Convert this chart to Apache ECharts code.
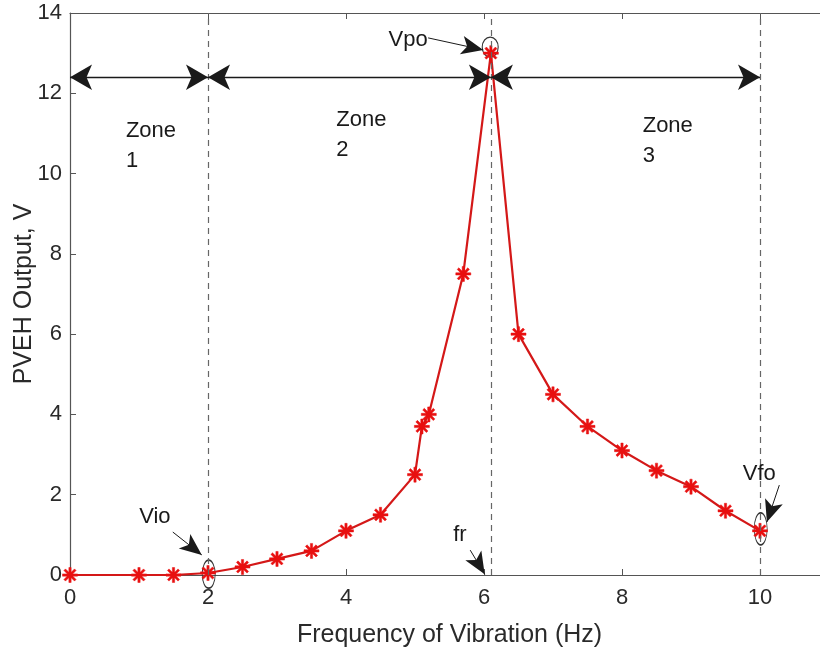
<!DOCTYPE html>
<html>
<head>
<meta charset="utf-8">
<script src="https://cdn.jsdelivr.net/npm/echarts@6/dist/echarts.min.js"></script>
<style>html,body{margin:0;padding:0;background:#fff}#c{width:820px;height:650px}</style>
</head>
<body>
<div id="c"></div>
<script>
// ---- data ----
var freq = [0, 1, 1.5, 2, 2.5, 3, 3.5, 4, 4.5, 5, 5.1, 5.2, 5.7, 6.1, 6.5, 7, 7.5, 8, 8.5, 9, 9.5, 10];
var volts = [0, 0, 0, 0.05, 0.2, 0.4, 0.6, 1.1, 1.5, 2.5, 3.7, 4.0, 7.5, 13, 6, 4.5, 3.7, 3.1, 2.6, 2.2, 1.6, 1.1];
var xTicks = [0, 2, 4, 6, 8, 10];
var yTicks = [0, 2, 4, 6, 8, 10, 12, 14];
var zoneBounds = [0, 2, 6.1, 10];
var zoneArrowY = 12.4;
var zoneLabels = ['Zone\n1', 'Zone\n2', 'Zone\n3'];
var zoneLabelPos = [[0.81, 10.7], [3.86, 10.95], [8.3, 10.82]];
var dashedX = [2, 6.1, 10];
var annoText = ['Vpo', 'Vio', 'fr', 'Vfo'];
var annoTextPos = [[4.9, 13.33], [1.23, 1.44], [5.65, 1.0], [9.99, 2.52]];
var annoArrowFrom = [[5.19, 13.38], [1.49, 1.07], [5.8, 0.62], [10.28, 2.24]];
var annoArrowTo = [[5.99, 13.08], [1.91, 0.5], [6.01, 0.02], [10.1, 1.32]];
var ellipseCenters = [[6.09, 13.15], [2.01, 0.02], [10.01, 1.15]];
var ellipseSizes = [[16, 20], [13, 28], [13, 32]];

var FONT = '"Liberation Sans", Arial, sans-serif';
var star = 'path://M-10,-1.5L10,-1.5L10,1.5L-10,1.5Z' +
  'M-1.5,-10L1.5,-10L1.5,10L-1.5,10Z' +
  'M-8.13,-6.01L-6.01,-8.13L8.13,6.01L6.01,8.13Z' +
  'M-6.01,8.13L-8.13,6.01L6.01,-8.13L8.13,-6.01Z';

var chart = echarts.init(document.getElementById('c'), null, {renderer: 'canvas'});

var zoneArrows = [];
for (var i = 0; i < zoneBounds.length - 1; i++) {
  zoneArrows.push([{coord: [zoneBounds[i], zoneArrowY]}, {coord: [zoneBounds[i + 1], zoneArrowY]}]);
}
var annoArrows = annoArrowFrom.map(function (f, i) {
  return [{coord: f}, {coord: annoArrowTo[i]}];
});

var option = {
  animation: false,
  backgroundColor: '#fff',
  grid: {left: 70, top: 13, right: -9, bottom: 75, outerBoundsMode: 'none', containLabel: false},
  xAxis: [{
    type: 'value', min: 0, max: 11, interval: 2,
    name: 'Frequency of Vibration (Hz)', nameLocation: 'middle', nameGap: 48,
    nameMoveOverlap: false,
    nameTextStyle: {fontFamily: FONT, fontSize: 25, color: '#2a2a2a'},
    axisLine: {show: true, onZero: false, lineStyle: {color: '#555', width: 1.2}},
    axisTick: {show: true, inside: true, length: 6, lineStyle: {color: '#555'}},
    axisLabel: {fontFamily: FONT, fontSize: 22, color: '#2a2a2a', margin: 12, showMaxLabel: false},
    splitLine: {show: false}
  }, {
    type: 'value', min: 0, max: 11, interval: 2, position: 'top',
    axisLine: {show: true, onZero: false, lineStyle: {color: '#555', width: 1.2}},
    axisTick: {show: true, inside: true, length: 6, lineStyle: {color: '#555'}},
    axisLabel: {show: false},
    splitLine: {show: false}
  }],
  yAxis: [{
    type: 'value', min: 0, max: 14, interval: 2,
    name: 'PVEH Output, V', nameLocation: 'middle', nameGap: 33,
    nameMoveOverlap: false,
    nameTextStyle: {fontFamily: FONT, fontSize: 25, color: '#2a2a2a'},
    axisLine: {show: true, onZero: false, lineStyle: {color: '#555', width: 1.2}},
    axisTick: {show: true, inside: true, length: 6, lineStyle: {color: '#555'}},
    axisLabel: {fontFamily: FONT, fontSize: 22, color: '#2a2a2a', margin: 8},
    splitLine: {show: false}
  }],
  series: [
    {
      type: 'line', data: [], silent: true,
      markLine: {
        silent: true, symbol: ['none', 'none'], label: {show: false},
        lineStyle: {color: '#666', type: [6, 5], width: 1.2},
        data: dashedX.map(function (x) { return {xAxis: x}; })
      }
    },
    {
      type: 'line', data: [], silent: true,
      markLine: {
        silent: true, symbol: ['arrow', 'arrow'], symbolSize: [19, 22], label: {show: false},
        lineStyle: {color: '#1a1a1a', type: 'solid', width: 1.3},
        data: zoneArrows
      }
    },
    {
      type: 'line', data: [], silent: true,
      markLine: {
        silent: true, symbol: ['none', 'arrow'], symbolSize: [14, 22], label: {show: false},
        lineStyle: {color: '#1a1a1a', type: 'solid', width: 1},
        data: annoArrows
      }
    },
    {
      type: 'scatter', silent: true, z: 3,
      data: ellipseCenters.map(function (c, i) {
        return {value: c, symbolSize: ellipseSizes[i]};
      }),
      symbol: 'circle',
      itemStyle: {color: 'rgba(0,0,0,0)', borderColor: '#333', borderWidth: 1.2, opacity: 1}
    },
    {
      type: 'line', z: 4,
      data: freq.map(function (x, i) { return [x, volts[i]]; }),
      symbol: star, symbolSize: 15, showAllSymbol: true,
      lineStyle: {color: '#d41818', width: 2.2},
      itemStyle: {color: '#e81010', borderColor: '#e81010', borderWidth: 0.5}
    },
    {
      type: 'scatter', silent: true, z: 5, symbolSize: 0,
      itemStyle: {opacity: 1},
      data: zoneLabelPos.map(function (p, i) { return {value: p, name: zoneLabels[i]}; }),
      label: {show: true, position: 'right', distance: 0, formatter: '{b}', align: 'left',
        fontFamily: FONT, fontSize: 22, color: '#1a1a1a', lineHeight: 30}
    },
    {
      type: 'scatter', silent: true, z: 5, symbolSize: 0,
      itemStyle: {opacity: 1},
      data: annoTextPos.map(function (p, i) { return {value: p, name: annoText[i]}; }),
      label: {show: true, position: 'inside', formatter: '{b}',
        fontFamily: FONT, fontSize: 22, color: '#1a1a1a', textBorderWidth: 0}
    }
  ]
};
chart.setOption(option);
</script>
</body>
</html>
